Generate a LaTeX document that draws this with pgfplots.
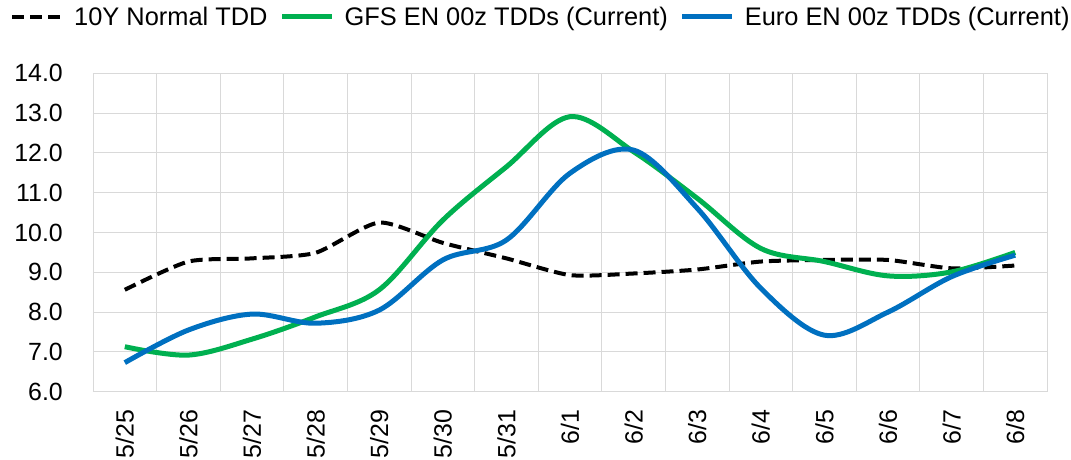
\documentclass[border=0pt]{standalone}
\usepackage{fontspec}
\setmainfont{Liberation Sans}
\usepackage{pgfplots}
\pgfplotsset{compat=1.18}
\definecolor{xlgreen}{RGB}{0,176,80}
\definecolor{xlblue}{RGB}{0,112,192}
\definecolor{gridgray}{RGB}{217,217,217}
\begin{document}
\begin{tikzpicture}
\begin{axis}[name=ax, scale only axis, width=954bp, height=318.4bp,
  xmin=-0.5, xmax=14.5, ymin=6, ymax=14,
  xtick={0,...,14},
  xticklabels={5/25,5/26,5/27,5/28,5/29,5/30,5/31,6/1,6/2,6/3,6/4,6/5,6/6,6/7,6/8},
  x tick label style={rotate=90, anchor=east, inner sep=0pt},
  xticklabel shift=18bp,
  minor xtick={-0.5,0.5,...,14.5}, xminorgrids=true,
  ytick={6,7,...,14}, ymajorgrids=true,
  y tick label style={inner sep=0pt},
  yticklabel shift=30bp,
  major tick length=0pt, minor tick length=0pt,
  grid style={gridgray, line width=1pt},
  minor grid style={gridgray, line width=1pt},
  axis line style={gridgray, line width=1pt},
  tick label style={font=\fontsize{25}{30}\selectfont},
  /pgf/number format/.cd, fixed, fixed zerofill, precision=1, assume math mode=true,
  /pgfplots/.cd,
  legend columns=3,
  legend style={at={(axis description cs:-0.087,1.177)}, anchor=west, draw=none, fill=none,
    font=\fontsize{25.5}{30}\selectfont, inner sep=0pt, nodes={inner sep=0pt},
    /tikz/every even column/.append style={column sep=12bp}},
  legend image code/.code={\draw[#1] (0bp,0bp) -- (50bp,0bp); \path (0bp,0bp) (60bp,0bp);},
  clip=false,
]
\addplot[black, line width=4bp, dash pattern=on 12bp off 6bp, smooth, tension=0.4] coordinates {
(0,8.56) (1,9.27) (2,9.35) (3,9.49) (4,10.25) (5,9.74) (6,9.35) (7,8.93) (8,8.97) (9,9.07) (10,9.27) (11,9.31) (12,9.31) (13,9.10) (14,9.17)};
\addlegendentry{10Y Normal TDD}
\addplot[xlgreen, line width=5bp, smooth, tension=0.55] coordinates {
(0,7.13) (1,6.92) (2,7.32) (3,7.88) (4,8.56) (5,10.31) (6,11.65) (7,12.91) (8,12.03) (9,10.86) (10,9.60) (11,9.27) (12,8.91) (13,9.01) (14,9.50)};
\addlegendentry{GFS EN 00z TDDs (Current)}
\addplot[xlblue, line width=5bp, smooth, tension=0.55] coordinates {
(0,6.73) (1,7.55) (2,7.95) (3,7.72) (4,8.05) (5,9.31) (6,9.81) (7,11.49) (8,12.07) (9,10.61) (10,8.60) (11,7.42) (12,8.00) (13,8.89) (14,9.43)};
\addlegendentry{Euro EN 00z TDDs (Current)}
\end{axis}
\pgfresetboundingbox
\path ([shift={(-93bp,-68.3bp)}]ax.south west) rectangle ([shift={(978bp,391.7bp)}]ax.south west);
\end{tikzpicture}
\end{document}
